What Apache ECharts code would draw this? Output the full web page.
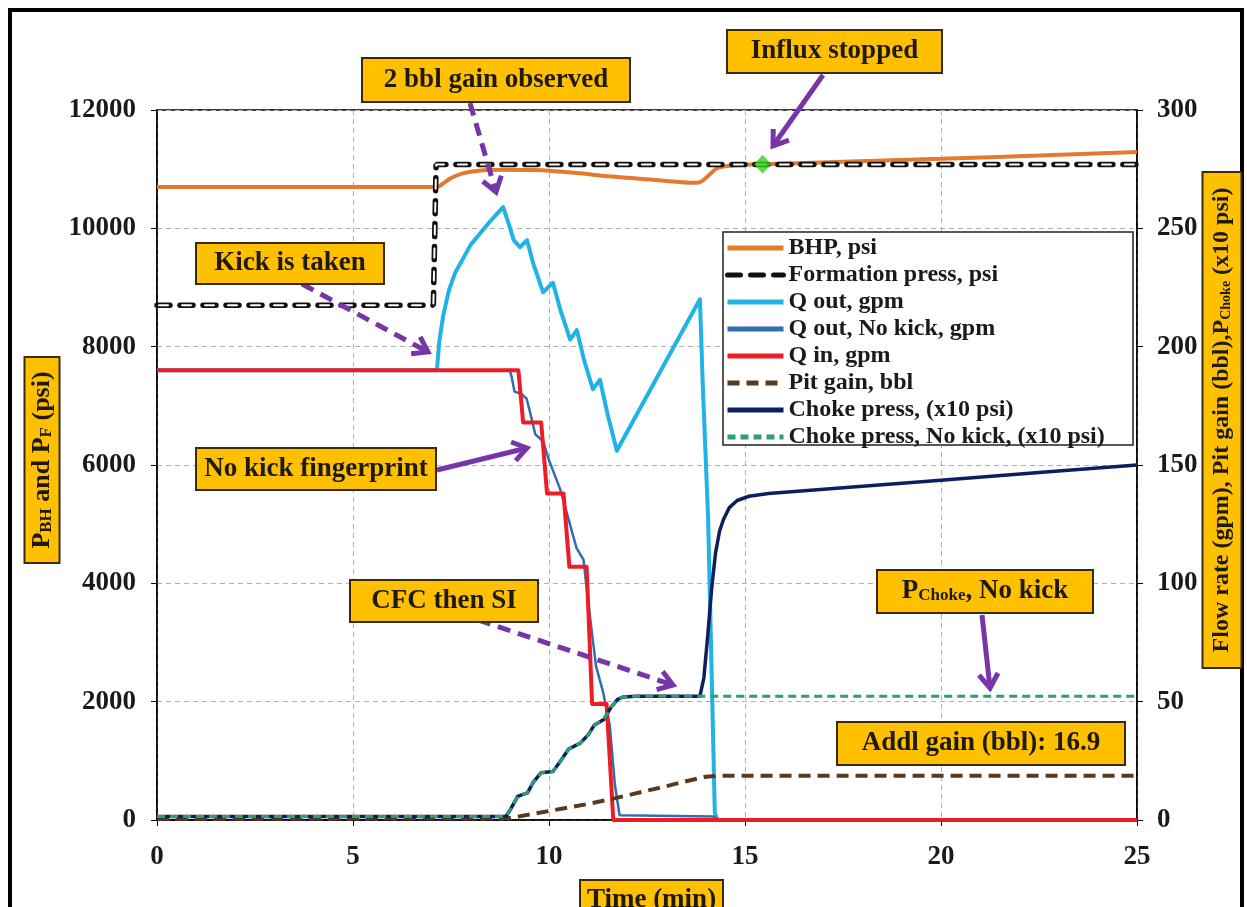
<!DOCTYPE html>
<html>
<head>
<meta charset="utf-8">
<script src="https://cdn.jsdelivr.net/npm/echarts@6.0.0/dist/echarts.min.js"></script>
<style>
  html, body { margin: 0; padding: 0; background: #fff; }
  #chart { width: 1247px; height: 907px; }
</style>
</head>
<body>
<div id="chart"></div>
<script>
// ---- data (time in minutes) ----
const X_TICKS = [0, 5, 10, 15, 20, 25];

// bottom-hole pressure, psi (left axis)
const BHP_T = [0, 7.15, 7.3, 7.5, 7.8, 8.2, 8.8, 9.5, 10.0, 10.8, 11.5, 12.3, 13.0, 13.6, 13.85, 14.05, 14.3, 14.7, 15.5, 17.5, 20, 22.5, 25];
const BHP_V = [10700, 10700, 10760, 10850, 10930, 10975, 10990, 10985, 10975, 10930, 10880, 10840, 10800, 10770, 10780, 10880, 11020, 11065, 11085, 11125, 11175, 11230, 11290];

// formation pressure, psi (left axis)
const FORM_T = [0, 7.05, 7.12, 25];
const FORM_V = [8700, 8700, 11080, 11080];

// flow out, gpm (right axis)
const QOUT_T = [0, 7.14, 7.2, 7.3, 7.45, 7.6, 7.8, 8.0, 8.25, 8.5, 8.83, 8.95, 9.1, 9.26, 9.44, 9.6, 9.85, 10.1, 10.3, 10.54, 10.71, 10.9, 11.12, 11.3, 11.5, 11.73, 13.85, 13.92, 14.06, 14.23, 14.3, 25];
const QOUT_V = [190, 190, 202, 213, 224, 231, 237, 243, 248, 253, 259, 253, 245, 242, 245, 235, 223, 227, 215, 203, 207, 194, 182, 186, 171, 156, 220, 185, 127, 3, 0, 0];

// flow out without a kick, gpm (right axis)
const QNK_T = [0, 9.0, 9.05, 9.12, 9.3, 9.43, 9.55, 9.65, 9.85, 10.0, 10.28, 10.5, 10.7, 10.88, 11.0, 11.2, 11.38, 11.55, 11.68, 11.8, 14.2, 14.3, 25];
const QNK_V = [190, 190, 187, 181, 180, 178, 170, 163, 160, 152, 140, 127, 115, 110, 92, 65, 54, 40, 15, 2, 1.5, 0, 0];

// flow in, gpm (right axis)
const QIN_T = [0, 9.22, 9.34, 9.8, 9.95, 10.37, 10.52, 10.96, 11.1, 11.47, 11.64, 25];
const QIN_V = [190, 190, 168, 168, 138, 138, 107, 107, 49, 49, 0, 0];

// pit gain, bbl (right axis)
const PIT_T = [0, 9.0, 9.5, 10.0, 10.5, 11.0, 11.5, 12.0, 12.5, 13.0, 13.5, 14.0, 14.3, 25];
const PIT_V = [0.5, 0.8, 2.3, 3.8, 5.3, 6.8, 8.5, 10.4, 12.4, 14.3, 16.4, 18.3, 18.7, 18.7];

// choke pressure, x10 psi (right axis)
const CHOKE_T = [0, 8.9, 9.0, 9.2, 9.45, 9.6, 9.8, 10.1, 10.3, 10.5, 10.8, 11.0, 11.15, 11.4, 11.6, 11.75, 11.9, 12.2, 13.85, 13.95, 14.05, 14.15, 14.25, 14.35, 14.45, 14.6, 14.8, 15.1, 15.6, 18, 20, 22.5, 25];
const CHOKE_V = [1.5, 1.5, 4, 10, 11.5, 16, 20, 20.5, 25, 30, 32.5, 36, 40, 42.5, 48, 51, 52, 52.3, 52.3, 60, 78, 98, 113, 122, 127, 132, 135, 136.8, 138, 141, 143.6, 146.8, 150];

// choke pressure without a kick, x10 psi (right axis)
const CNK_T = [0, 8.9, 9.0, 9.2, 9.45, 9.6, 9.8, 10.1, 10.3, 10.5, 10.8, 11.0, 11.15, 11.4, 11.6, 11.75, 11.9, 12.2, 25];
const CNK_V = [1.5, 1.5, 4, 10, 11.5, 16, 20, 20.5, 25, 30, 32.5, 36, 40, 42.5, 48, 51, 52, 52.3, 52.3];

// point where influx stopped (on the BHP curve)
const INFLUX_STOP = [15.45, 11085];

const LEGEND_NAMES = ['BHP, psi', 'Formation press, psi', 'Q out, gpm', 'Q out, No kick, gpm', 'Q in, gpm', 'Pit gain, bbl', 'Choke press, (x10 psi)', 'Choke press, No kick, (x10 psi)'];

// ---- helpers ----
const zip = (t, v) => t.map((x, i) => [x, v[i]]);
const SERIF = '"Liberation Serif", "Times New Roman", "DejaVu Serif", serif';
const TXT = '#1f1a10';
const BOX_FILL = '#FFC000';
const BOX_STROKE = '#3a2a10';
const PURPLE = '#7636A8';

function box(x, y, w, h, text, fontSize, rich) {
  return [
    { type: 'rect', z: 30, shape: { x: x, y: y, width: w, height: h },
      style: { fill: BOX_FILL, stroke: BOX_STROKE, lineWidth: 2 } },
    { type: 'text', z: 31, x: x + w / 2, y: y + h / 2,
      style: { text: text, rich: rich, align: 'center', verticalAlign: 'middle',
               font: 'bold ' + (fontSize || 27) + 'px ' + SERIF, fill: TXT } }
  ];
}

function vbox(cx, cy, w, h, text, fontSize, rich) {
  // rotated box, text reading bottom-to-top
  return {
    type: 'group', x: cx, y: cy, rotation: Math.PI / 2, z: 30,
    children: [
      { type: 'rect', z: 30, shape: { x: -h / 2, y: -w / 2, width: h, height: w },
        style: { fill: BOX_FILL, stroke: BOX_STROKE, lineWidth: 2 } },
      { type: 'text', z: 31, x: 0, y: 0,
        style: { text: text, rich: rich, align: 'center', verticalAlign: 'middle',
                 font: 'bold ' + fontSize + 'px ' + SERIF, fill: TXT } }
    ]
  };
}

function arrow(x1, y1, x2, y2, dashed) {
  const a = Math.atan2(y2 - y1, x2 - x1);
  const L = 17, W = 0.6;
  const p1 = [x2 - L * Math.cos(a - W), y2 - L * Math.sin(a - W)];
  const p2 = [x2 - L * Math.cos(a + W), y2 - L * Math.sin(a + W)];
  return [
    { type: 'line', z: 25, shape: { x1: x1, y1: y1, x2: x2 - 3 * Math.cos(a), y2: y2 - 3 * Math.sin(a) },
      style: { stroke: PURPLE, lineWidth: 5, lineDash: dashed ? [13, 8] : null } },
    { type: 'polyline', z: 25, shape: { points: [p1, [x2, y2], p2] },
      style: { stroke: PURPLE, lineWidth: 5, fill: null, lineJoin: 'miter' } }
  ];
}

const subRich = {
  sub: { font: 'bold 17px ' + SERIF, fill: TXT, padding: [9, 0, 0, 0] },
  subs: { font: 'bold 14px ' + SERIF, fill: TXT, padding: [8, 0, 0, 0] }
};

const graphics = [].concat(
  // outer frame
  [{ type: 'rect', z: 0, shape: { x: 10, y: 10, width: 1232, height: 920 },
     style: { fill: null, stroke: '#000', lineWidth: 4 } }],
  // legend frame
  [{ type: 'rect', z: 3, shape: { x: 723, y: 232, width: 410, height: 213 },
     style: { fill: '#fff', stroke: '#222', lineWidth: 1.5 } }],
  // annotations
  box(362, 58, 268, 44, '2 bbl gain observed'),
  box(727, 30, 215, 43, 'Influx stopped'),
  box(196, 243, 188, 41, 'Kick is taken'),
  box(196, 448, 240, 42, 'No kick fingerprint'),
  box(350, 580, 188, 42, 'CFC then SI'),
  box(877, 570, 216, 43, 'P{sub|Choke}, No kick', 27, subRich),
  box(837, 722, 288, 43, 'Addl gain (bbl): 16.9'),
  box(580, 880, 143, 40, 'Time (min)'),
  [vbox(42, 460, 35, 206, 'P{sub|BH} and P{sub|F} (psi)', 26, subRich)],
  [vbox(1222, 420, 39, 496, 'Flow rate (gpm), Pit gain (bbl),P{subs|Choke} (x10 psi)', 24, subRich)],
  // arrows
  arrow(470, 103, 496, 192, true),
  arrow(823, 75, 773, 146, false),
  arrow(302, 284, 428, 352, true),
  arrow(437, 470, 527, 448, false),
  arrow(478, 620, 673, 685, true),
  arrow(982, 615, 990, 688, false)
);

const plainNum = (v) => String(v);
const axisLabelStyle = { fontSize: 27, fontWeight: 'bold', fontFamily: SERIF, color: '#1a1a1a', formatter: plainNum };
const gridLine = { show: true, lineStyle: { type: [5, 4], color: '#b0b0b0', width: 1 } };

const option = {
  animation: false,
  backgroundColor: '#fff',
  grid: { left: 157, right: 110, top: 110, bottom: 87, show: true, borderColor: '#000', borderWidth: 1.5,
          backgroundColor: 'transparent', containLabel: false, outerBoundsMode: 'none' },
  legend: {
    data: LEGEND_NAMES,
    orient: 'vertical',
    left: 725, top: 236,
    padding: 0,
    itemGap: 3,
    itemWidth: 56,
    itemHeight: 14,
    z: 5,
    selectedMode: false,
    itemStyle: { opacity: 0, borderWidth: 0 },
    lineStyle: { width: 5 },
    textStyle: { fontSize: 24, fontWeight: 'bold', fontFamily: SERIF, color: '#1a1a1a' }
  },
  xAxis: {
    type: 'value', min: 0, max: 25, interval: 5,
    axisLine: { show: true, onZero: false, lineStyle: { color: '#000', width: 1.5 } },
    axisTick: { show: true, length: 6, lineStyle: { color: '#000' } },
    axisLabel: Object.assign({}, axisLabelStyle, { margin: 24 }),
    splitLine: gridLine
  },
  yAxis: [
    {
      type: 'value', min: 0, max: 12000, interval: 2000, position: 'left',
      axisLine: { show: true, lineStyle: { color: '#000', width: 1.5 } },
      axisTick: { show: true, length: 6, lineStyle: { color: '#000' } },
      axisLabel: Object.assign({}, axisLabelStyle, { margin: 21 }),
      splitLine: gridLine
    },
    {
      type: 'value', min: 0, max: 300, interval: 50, position: 'right',
      axisLine: { show: true, lineStyle: { color: '#000', width: 1.5 } },
      axisTick: { show: true, length: 6, lineStyle: { color: '#000' } },
      axisLabel: Object.assign({}, axisLabelStyle, { margin: 20 }),
      splitLine: { show: false }
    }
  ],
  graphic: { elements: graphics },
  series: [
    { name: 'BHP, psi', type: 'line', yAxisIndex: 0, data: zip(BHP_T, BHP_V), symbol: 'none', smooth: 0.3,
      lineStyle: { color: '#E37A2E', width: 4 }, itemStyle: { color: '#E37A2E' }, z: 3 },
    { name: 'Formation press, psi', type: 'line', yAxisIndex: 0, data: zip(FORM_T, FORM_V), symbol: 'none',
      lineStyle: { color: '#111', width: 5.5, type: [13, 10], cap: 'round' }, itemStyle: { color: '#111' }, z: 3 },
    { name: 'formation-inner', type: 'line', yAxisIndex: 0, data: zip(FORM_T, FORM_V), symbol: 'none',
      lineStyle: { color: '#fff', width: 2, type: [9, 14], dashOffset: -2, cap: 'round' }, z: 3, silent: true },
    { name: 'Q out, gpm', type: 'line', yAxisIndex: 1, data: zip(QOUT_T, QOUT_V), symbol: 'none',
      lineStyle: { color: '#21B2E6', width: 4, join: 'round' }, itemStyle: { color: '#21B2E6' }, z: 4 },
    { name: 'Q out, No kick, gpm', type: 'line', yAxisIndex: 1, data: zip(QNK_T, QNK_V), symbol: 'none',
      lineStyle: { color: '#2F6FB0', width: 2.5, join: 'round' }, itemStyle: { color: '#2F6FB0' }, z: 4 },
    { name: 'Q in, gpm', type: 'line', yAxisIndex: 1, data: zip(QIN_T, QIN_V), symbol: 'none',
      lineStyle: { color: '#EE1C25', width: 4, join: 'round' }, itemStyle: { color: '#EE1C25' }, z: 4 },
    { name: 'Pit gain, bbl', type: 'line', yAxisIndex: 1, data: zip(PIT_T, PIT_V), symbol: 'none',
      lineStyle: { color: '#5A3A1E', width: 4, type: [12, 7] }, itemStyle: { color: '#5A3A1E' }, z: 4 },
    { name: 'Choke press, (x10 psi)', type: 'line', yAxisIndex: 1, data: zip(CHOKE_T, CHOKE_V), symbol: 'none',
      lineStyle: { color: '#0D1F5E', width: 3.5, join: 'round' }, itemStyle: { color: '#0D1F5E' }, z: 4 },
    { name: 'Choke press, No kick, (x10 psi)', type: 'line', yAxisIndex: 1, data: zip(CNK_T, CNK_V), symbol: 'none',
      lineStyle: { color: '#2E9E73', width: 3, type: [8, 5] }, itemStyle: { color: '#2E9E73' }, z: 4 },
    { name: 'Influx stopped', type: 'scatter', yAxisIndex: 0, data: [INFLUX_STOP], symbol: 'diamond',
      symbolSize: [17, 19], itemStyle: { color: '#35D11A' }, z: 6 }
  ]
};

const chart = echarts.init(document.getElementById('chart'), null, { renderer: 'canvas' });
chart.setOption(option);
</script>
</body>
</html>
